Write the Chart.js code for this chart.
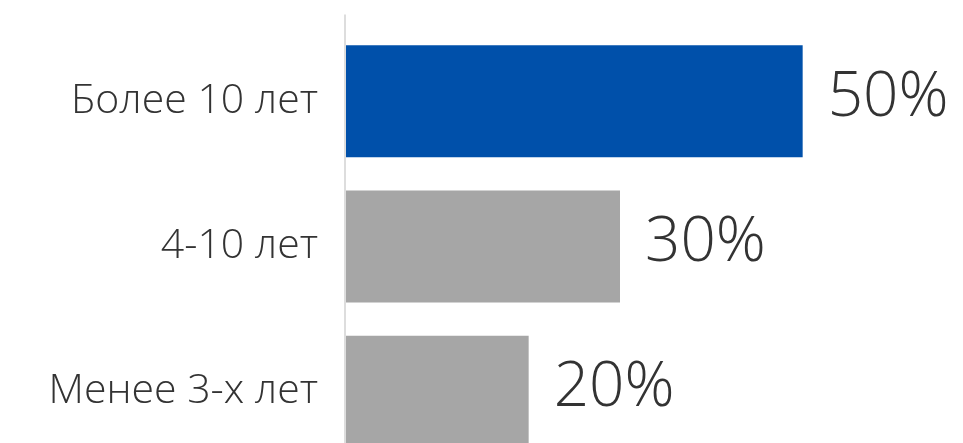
<!DOCTYPE html>
<html>
<head>
<meta charset="utf-8">
<script src="https://cdn.jsdelivr.net/npm/chart.js@4"></script>
<style>
    html, body { margin: 0; padding: 0; background: #fff; overflow: hidden; }
    #barChart { display: block; margin-top: -24px; }
</style>
</head>
<body>
<canvas id="barChart" width="963" height="541"></canvas>
<script>
const categories = ['Более 10 лет', '4-10 лет', 'Менее 3-х лет'];
const values = [50, 30, 20];
const barColors = ['#0050AA', '#A6A6A6', '#A6A6A6'];

const fontFamily = '"Open Sans", Roboto, sans-serif';

// вертикальная ось чуть выше области графика
const axisLine = {
    id: 'axisLine',
    beforeDatasetsDraw(chart) {
        const ctx = chart.ctx;
        const area = chart.chartArea;
        ctx.save();
        ctx.strokeStyle = '#DDDDDD';
        ctx.lineWidth = 2;
        ctx.beginPath();
        ctx.moveTo(area.left - 1, area.top - 14);
        ctx.lineTo(area.left - 1, area.bottom);
        ctx.stroke();
        ctx.restore();
    }
};

// подписи значений справа от столбцов
const valueLabels = {
    id: 'valueLabels',
    afterDatasetsDraw(chart) {
        const ctx = chart.ctx;
        const meta = chart.getDatasetMeta(0);
        ctx.save();
        ctx.font = '300 62px ' + fontFamily;
        ctx.fillStyle = '#333333';
        ctx.textAlign = 'left';
        ctx.textBaseline = 'middle';
        meta.data.forEach((bar, i) => {
            ctx.fillText(values[i] + '%', bar.x + 25, bar.y - 3);
        });
        ctx.restore();
    }
};

window.onload = function () {
    new Chart(document.getElementById('barChart'), {
        type: 'bar',
        data: {
            labels: categories,
            datasets: [{
                data: values,
                backgroundColor: barColors,
                barPercentage: 0.77,
                categoryPercentage: 1
            }]
        },
        options: {
            indexAxis: 'y',
            responsive: false,
            animation: false,
            layout: { padding: { top: 0, right: 69, left: 0, bottom: 0 } },
            plugins: { legend: { display: false }, tooltip: { enabled: false } },
            scales: {
                x: {
                    min: 0,
                    max: 60,
                    display: false
                },
                y: {
                    afterFit(scale) { scale.width = 346; },
                    grid: { display: false, drawTicks: false },
                    border: { display: false },
                    ticks: {
                        color: '#333333',
                        padding: 28,
                        font: { family: fontFamily, size: 41, weight: 300 }
                    }
                }
            }
        },
        plugins: [axisLine, valueLabels]
    });
};
</script>
</body>
</html>
